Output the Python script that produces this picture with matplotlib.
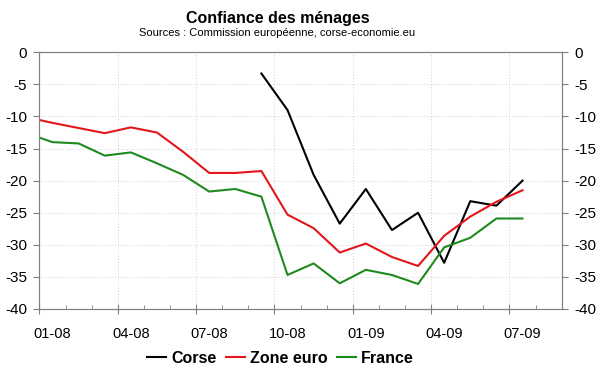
"""
Confiance des ménages - Corse / Zone euro / France
"""
import numpy as np
import matplotlib.pyplot as plt

plt.rcParams["font.family"] = "Liberation Sans"
plt.rcParams["axes.unicode_minus"] = False

# monthly series, Dec 2007 -> Jul 2009 (points sit mid-month)
months = ["12-07", "01-08", "02-08", "03-08", "04-08", "05-08", "06-08", "07-08",
          "08-08", "09-08", "10-08", "11-08", "12-08", "01-09", "02-09", "03-09",
          "04-09", "05-09", "06-09", "07-09"]
corse = [np.nan, np.nan, np.nan, np.nan, np.nan, np.nan, np.nan, np.nan, np.nan,
         -3.3, -9.0, -19.1, -26.7, -21.3, -27.7, -25.0, -32.8, -23.2, -23.9, -20.0]
zone_euro = [-10.1, -11.0, -11.8, -12.6, -11.7, -12.5, -15.5, -18.8, -18.8, -18.5,
             -25.3, -27.4, -31.2, -29.8, -31.9, -33.3, -28.6, -25.6, -23.3, -21.5]
france = [-12.6, -14.0, -14.2, -16.1, -15.6, -17.3, -19.1, -21.7, -21.3, -22.5,
          -34.7, -32.9, -36.0, -33.9, -34.7, -36.1, -30.4, -28.9, -25.9, -25.9]
tick_labels = ["01-08", "04-08", "07-08", "10-08", "01-09", "04-09", "07-09"]

x = np.arange(len(months)) - 0.5
grey = "#808080"

fig = plt.figure(figsize=(6, 3.72), dpi=100)
ax = fig.add_axes([0.0658, 0.1694, 0.8703, 0.69])

l1, = ax.plot(x, corse, color="black", lw=1.5, label="Corse")
l2, = ax.plot(x, zone_euro, color="#e3161b", lw=1.5, label="Zone euro")
l3, = ax.plot(x, france, color="#1e8a1e", lw=1.5, label="France")

ax.set_xlim(0, 20)
ax.set_ylim(-40, 0)
ax.set_yticks(np.arange(-40, 1, 5))
ax.set_xticks(np.arange(0, 20, 3))
ax.set_xticks(np.arange(0, 21, 1), minor=True)
ax.set_xticklabels([])
ax.grid(True, which="major", color="#d0d0d0", ls=(0, (1, 2)), lw=0.7)

for s in ax.spines.values():
    s.set_color(grey)
ax.tick_params(axis="x", which="major", direction="inout", length=7, color=grey)
ax.tick_params(axis="x", which="minor", direction="in", length=3, color=grey)
ax.tick_params(axis="y", direction="out", length=4, color=grey, labelsize=11, pad=5)

# month labels centred mid-month
sec = ax.secondary_xaxis("bottom")
sec.set_xticks([t + 0.5 for t in range(0, 20, 3)], tick_labels)
sec.tick_params(length=0, labelsize=10.5, pad=13)
sec.spines["bottom"].set_visible(False)

ax2 = ax.twinx()
ax2.set_ylim(-40, 0)
ax2.set_yticks(np.arange(-40, 1, 5))
ax2.tick_params(axis="y", direction="out", length=4, color=grey, labelsize=11, pad=5)
for s in ax2.spines.values():
    s.set_color(grey)

fig.text(0.4625, 0.951, "Confiance des ménages", ha="center", va="center",
         fontsize=11.5, fontweight="bold")
fig.text(0.4625, 0.9105, "Sources : Commission européenne, corse-economie.eu",
         ha="center", va="center", fontsize=8)

fig.legend(handles=[l1, l2, l3], loc="center", bbox_to_anchor=(0.4675, 0.037),
           ncol=3, frameon=False, handlelength=1.2, handletextpad=0.3,
           columnspacing=0.6, prop={"weight": "bold", "size": 11.5})

fig.savefig("out.png", dpi=100)
